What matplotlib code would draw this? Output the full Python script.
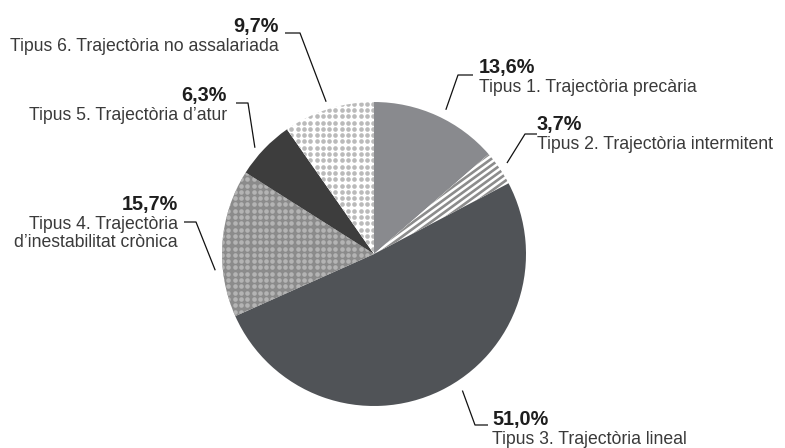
import numpy as np
import matplotlib
matplotlib.use("Agg")
import matplotlib.pyplot as plt
from matplotlib.collections import LineCollection

# ---- data ----
labels = ["Tipus 1. Trajectòria precària",
          "Tipus 2. Trajectòria intermitent",
          "Tipus 3. Trajectòria lineal",
          "Tipus 4. Trajectòria\nd\u2019inestabilitat crònica",
          "Tipus 5. Trajectòria d\u2019atur",
          "Tipus 6. Trajectòria no assalariada"]
values = [13.6, 3.7, 51.0, 15.7, 6.3, 9.7]
pct_labels = ["13,6%", "3,7%", "51,0%", "15,7%", "6,3%", "9,7%"]

# ---- style ----
face_colors = ["#898a8e", "#ffffff", "#505357", "#8b8b8b", "#3d3d3d", "#ffffff"]
texture = [None, "stripes", None, "dots", None, "dots"]
dot_colors = {3: "#b4b4b4", 5: "#bababa"}
stripe_color = "#8c8c8c"

W, H = 785, 448
fig = plt.figure(figsize=(W / 100, H / 100), dpi=100)
ax = fig.add_axes([0, 0, 1, 1])

def P(x, y):
    return x, H - y

cx, cy = P(374, 254)
R = 152

wedges, _ = ax.pie(values, startangle=90, counterclock=False,
                   center=(cx, cy), radius=R, colors=face_colors,
                   wedgeprops=dict(linewidth=0))

# textures
for i, w in enumerate(wedges):
    if texture[i] == "dots":
        sp = 6.3
        xs = np.arange(cx - R, cx + R, sp)
        ys = np.arange(cy - R, cy + R, sp)
        gx, gy = np.meshgrid(xs, ys)
        sc = ax.scatter(gx.ravel(), gy.ravel(), s=11, color=dot_colors[i],
                        linewidths=0, zorder=3)
        sc.set_clip_path(w)
    elif texture[i] == "stripes":
        ang = np.deg2rad(36)
        d = np.array([np.cos(ang), np.sin(ang)])
        n = np.array([-np.sin(ang), np.cos(ang)])
        segs = []
        for k in np.arange(-2 * R, 2 * R, 5.2):
            c = np.array([cx, cy]) + n * k
            segs.append([c - d * 2 * R, c + d * 2 * R])
        lc = LineCollection(segs, colors=stripe_color, linewidths=1.9, zorder=3)
        ax.add_collection(lc)
        lc.set_clip_path(w)

# label layout (pixel coordinates, y from top)
# (text x, pct baseline y, align, elbow x, elbow y, end x)
layout = [
    (479, 73, "left", 458, 75, 473),
    (537, 130, "left", 525, 134, 537),
    (492, 425, "left", 475, 425, 488),
    (178, 210, "right", 196, 222, 184),
    (227, 101, "right", 248, 103, 236),
    (279, 32, "right", 300, 33, 285),
]
anchor_r = [1.06, 1.06, 1.07, 1.05, 1.05, 1.05]
anchor_adj = [2, 0, -7, -10, -2, 0]  # degrees

cum = np.cumsum([0] + values)
total = sum(values)
for i in range(len(values)):
    mid = (cum[i] + cum[i + 1]) / 2 / total * 360 + anchor_adj[i]
    th = np.deg2rad(mid)
    ax_ = cx + R * anchor_r[i] * np.sin(th)
    ay_ = cy + R * anchor_r[i] * np.cos(th)
    tx, ty, ha, ex, ey, endx = layout[i]
    exd, eyd = P(ex, ey)
    endd = P(endx, ey)
    ax.plot([ax_, exd, endd[0]], [ay_, eyd, endd[1]], color="#111111",
            lw=0.9, solid_capstyle="butt", zorder=4)
    ax.text(*P(tx, ty), pct_labels[i], ha=ha, va="baseline",
            fontsize=14.3, fontweight="bold", color="#1e1e1e",
            family=["Liberation Sans", "DejaVu Sans"])
    lines = labels[i].split("\n")
    for j, line in enumerate(lines):
        ax.text(*P(tx, ty + 19 + 18 * j), line, ha=ha, va="baseline",
                fontsize=12.7, color="#3a3a3a",
                family=["Liberation Sans", "DejaVu Sans"])

ax.set_xlim(0, W)
ax.set_ylim(0, H)
ax.set_aspect("auto")
ax.axis("off")
fig.savefig("out.png", dpi=100)
